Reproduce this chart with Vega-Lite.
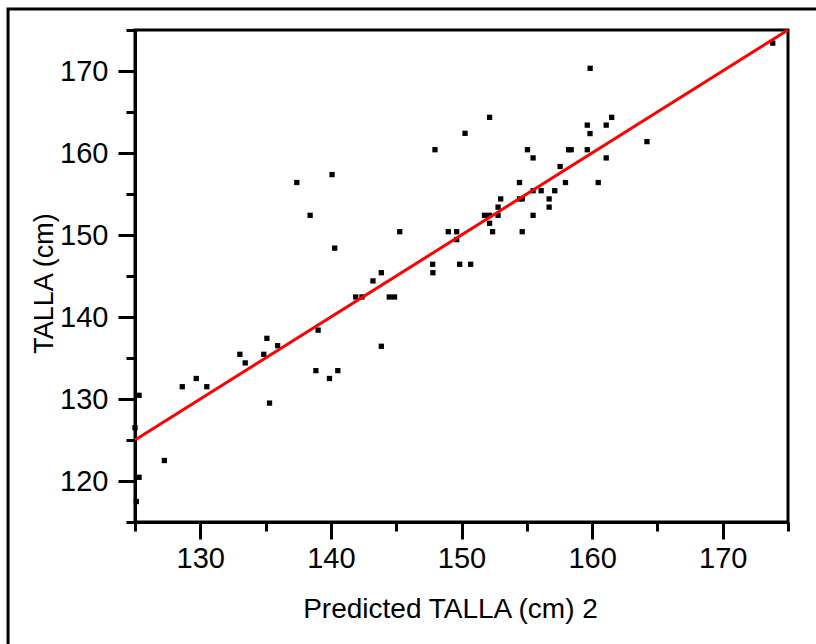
{
  "$schema": "https://vega.github.io/schema/vega-lite/v6.json",
  "width": 653,
  "height": 492,
  "autosize": "none",
  "padding": {"left": 135, "top": 30, "right": 28, "bottom": 122},
  "background": "white",
  "config": {
    "font": "Liberation Sans",
    "view": {"stroke": "black", "strokeWidth": 3},
    "axis": {
      "grid": false,
      "domainColor": "black",
      "domainWidth": 3,
      "tickColor": "black",
      "tickWidth": 3,
      "labelColor": "black",
      "labelFont": "Liberation Sans",
      "labelFontSize": 29,
      "labelOverlap": false,
      "labelFlush": false,
      "titleColor": "black",
      "titleFont": "Liberation Sans",
      "titleFontWeight": "normal"
    }
  },
  "layer": [
    {
      "data": {"values": [{"frame": "outer"}]},
      "mark": {"type": "rect", "fill": "transparent", "stroke": "black", "strokeWidth": 3, "clip": false},
      "encoding": {
        "x": {"datum": 115.28, "type": "quantitative", "scale": {"domain": [125, 175], "nice": false, "zero": false}},
        "x2": {"datum": 180},
        "y": {"datum": 177.56, "type": "quantitative", "scale": {"domain": [115, 175], "nice": false, "zero": false}},
        "y2": {"datum": 95}
      }
    },
    {
      "data": {
        "values": [
          {"predicted": 137.39, "actual": 156.4},
          {"predicted": 140.09, "actual": 157.37},
          {"predicted": 138.41, "actual": 152.4},
          {"predicted": 140.29, "actual": 148.4},
          {"predicted": 141.9, "actual": 142.44},
          {"predicted": 139.02, "actual": 138.4},
          {"predicted": 135.1, "actual": 137.4},
          {"predicted": 135.92, "actual": 136.5},
          {"predicted": 133.03, "actual": 135.45},
          {"predicted": 134.86, "actual": 135.45},
          {"predicted": 133.44, "actual": 134.4},
          {"predicted": 128.62, "actual": 131.5},
          {"predicted": 129.69, "actual": 132.5},
          {"predicted": 130.5, "actual": 131.5},
          {"predicted": 125.31, "actual": 130.45},
          {"predicted": 138.85, "actual": 133.46},
          {"predicted": 139.89, "actual": 132.5},
          {"predicted": 140.53, "actual": 133.46},
          {"predicted": 135.3, "actual": 129.5},
          {"predicted": 125.0, "actual": 126.5},
          {"predicted": 127.25, "actual": 122.5},
          {"predicted": 125.31, "actual": 120.45},
          {"predicted": 125.1, "actual": 117.5},
          {"predicted": 152.15, "actual": 164.35},
          {"predicted": 150.27, "actual": 162.4},
          {"predicted": 147.97, "actual": 160.4},
          {"predicted": 155.05, "actual": 160.4},
          {"predicted": 155.48, "actual": 159.4},
          {"predicted": 158.2, "actual": 160.4},
          {"predicted": 158.4, "actual": 160.4},
          {"predicted": 157.55, "actual": 158.35},
          {"predicted": 157.96, "actual": 156.4},
          {"predicted": 154.44, "actual": 156.4},
          {"predicted": 155.48, "actual": 155.4},
          {"predicted": 156.1, "actual": 155.4},
          {"predicted": 157.14, "actual": 155.4},
          {"predicted": 154.44, "actual": 154.4},
          {"predicted": 154.65, "actual": 154.4},
          {"predicted": 156.71, "actual": 154.4},
          {"predicted": 156.71, "actual": 153.4},
          {"predicted": 153.0, "actual": 154.4},
          {"predicted": 152.8, "actual": 153.4},
          {"predicted": 151.76, "actual": 152.4},
          {"predicted": 152.15, "actual": 152.4},
          {"predicted": 152.8, "actual": 152.4},
          {"predicted": 155.48, "actual": 152.4},
          {"predicted": 152.15, "actual": 151.43},
          {"predicted": 145.27, "actual": 150.4},
          {"predicted": 148.99, "actual": 150.4},
          {"predicted": 149.63, "actual": 150.4},
          {"predicted": 152.38, "actual": 150.4},
          {"predicted": 154.65, "actual": 150.4},
          {"predicted": 149.63, "actual": 149.44},
          {"predicted": 147.79, "actual": 146.43},
          {"predicted": 149.86, "actual": 146.43},
          {"predicted": 150.7, "actual": 146.43},
          {"predicted": 147.81, "actual": 145.4},
          {"predicted": 143.86, "actual": 145.4},
          {"predicted": 143.22, "actual": 144.4},
          {"predicted": 142.38, "actual": 142.44},
          {"predicted": 144.47, "actual": 142.44},
          {"predicted": 144.87, "actual": 142.44},
          {"predicted": 143.86, "actual": 136.43},
          {"predicted": 159.85, "actual": 170.33},
          {"predicted": 161.5, "actual": 164.35},
          {"predicted": 159.63, "actual": 163.4},
          {"predicted": 161.08, "actual": 163.4},
          {"predicted": 159.84, "actual": 162.37},
          {"predicted": 164.2, "actual": 161.39},
          {"predicted": 159.63, "actual": 160.4},
          {"predicted": 161.08, "actual": 159.4},
          {"predicted": 160.47, "actual": 156.4},
          {"predicted": 173.83, "actual": 173.4}
        ]
      },
      "mark": {"type": "square", "size": 28, "color": "black", "opacity": 1},
      "encoding": {
        "x": {
          "field": "predicted",
          "type": "quantitative",
          "scale": {"domain": [125, 175], "nice": false, "zero": false},
          "axis": {
            "title": "Predicted TALLA (cm) 2",
            "values": [125, 130, 135, 140, 145, 150, 155, 160, 165, 170, 175],
            "labelExpr": "datum.value % 10 === 0 ? datum.label : ''",
            "tickSize": {"condition": {"test": "datum.value % 10 === 0", "value": 17}, "value": 9},
            "labelPadding": 5,
            "titleFontSize": 28,
            "titleX": 315,
            "titleY": 95,
            "titleBaseline": "alphabetic",
            "titleAlign": "center"
          }
        },
        "y": {
          "field": "actual",
          "type": "quantitative",
          "scale": {"domain": [115, 175], "nice": false, "zero": false},
          "axis": {
            "title": "TALLA (cm)",
            "values": [115, 120, 125, 130, 135, 140, 145, 150, 155, 160, 165, 170, 175],
            "labelExpr": "datum.value % 10 === 0 ? datum.label : ''",
            "tickSize": {"condition": {"test": "datum.value % 10 === 0", "value": 17}, "value": 9},
            "labelPadding": 10,
            "titleFontSize": 27,
            "titleX": -83,
            "titleY": 253,
            "titleBaseline": "alphabetic",
            "titleAlign": "center",
            "titleAngle": -90
          }
        }
      }
    },
    {
      "data": {"values": [{"predicted": 125, "actual": 125}, {"predicted": 175, "actual": 175}]},
      "mark": {"type": "line", "color": "#ff0000", "strokeWidth": 3},
      "encoding": {
        "x": {"field": "predicted", "type": "quantitative"},
        "y": {"field": "actual", "type": "quantitative"}
      }
    }
  ]
}
